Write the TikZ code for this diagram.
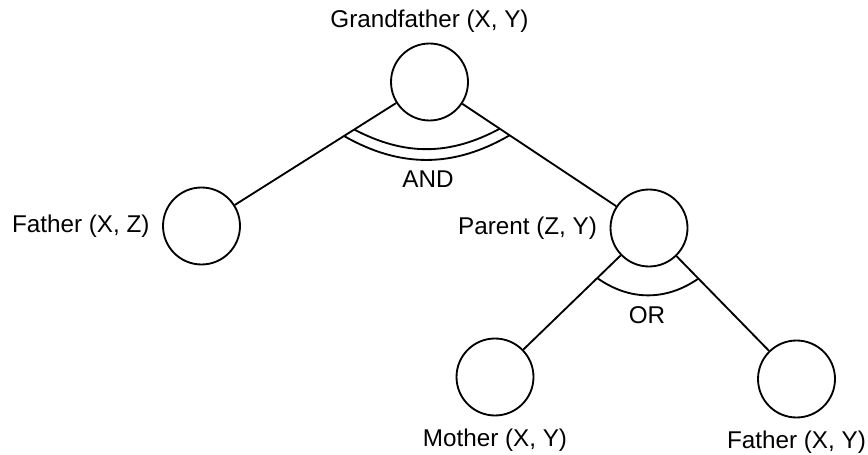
\documentclass[tikz,border=0pt]{standalone}
\usepackage{fontspec}
\setmainfont{Liberation Sans}
\usetikzlibrary{calc}

\begin{document}
\begin{tikzpicture}[
  x=0.02cm, y=-0.02cm,
  goal/.style={draw, circle, line width=1.05pt, minimum size=1.54cm, inner sep=0pt},
  lbl/.style={font=\fontsize{13.8}{16}\selectfont, inner sep=1pt},
  edge/.style={line width=1.05pt},
]

% ══════════════════════════════════════════════════════
% Frame (pixel units, y downwards)
% ══════════════════════════════════════════════════════
\useasboundingbox (0,0) rectangle (868,455);

% ══════════════════════════════════════════════════════
% Goal nodes
% ══════════════════════════════════════════════════════
\node[goal, label={[lbl, label distance=4.5pt]90:Grandfather (X, Y)}] (gf) at (429.5,82) {};
\node[goal, label={[lbl, label distance=6pt]180:Father (X, Z)}] (fxz) at (201.5,226) {};
\node[goal, label={[lbl, label distance=6pt]180:Parent (Z, Y)}] (par) at (649,228) {};
\node[goal, label={[lbl, label distance=6pt]-90:Mother (X, Y)}] (mxy) at (495,377) {};
\node[goal, label={[lbl, label distance=6pt]-90:Father (X, Y)}] (fxy) at (796.5,379) {};

% ══════════════════════════════════════════════════════
% Branches
% ══════════════════════════════════════════════════════
\draw[edge] (gf) -- (fxz);
\draw[edge] (gf) -- (par);
\draw[edge] (par) -- (mxy);
\draw[edge] (par) -- (fxy);

% ══════════════════════════════════════════════════════
% AND link (double arc)
% ══════════════════════════════════════════════════════
\coordinate (andLi) at ($(gf.center)!0.33!(fxz.center)$);
\coordinate (andRi) at ($(gf.center)!0.32!(par.center)$);
\coordinate (andLo) at ($(gf.center)!0.375!(fxz.center)$);
\coordinate (andRo) at ($(gf.center)!0.365!(par.center)$);
\draw[edge] (andLi) to[bend right=28] (andRi);
\draw[edge] (andLo) to[bend right=30] (andRo);
\node[lbl] (andlbl) at (428,179) {AND};

% ══════════════════════════════════════════════════════
% OR link (single arc)
% ══════════════════════════════════════════════════════
\coordinate (orL) at ($(par.center)!0.336!(mxy.center)$);
\coordinate (orR) at ($(par.center)!0.335!(fxy.center)$);
\draw[edge] (orL) to[bend right=35] (orR);
\node[lbl] (orlbl) at (647,315) {OR};

\end{tikzpicture}
\end{document}
